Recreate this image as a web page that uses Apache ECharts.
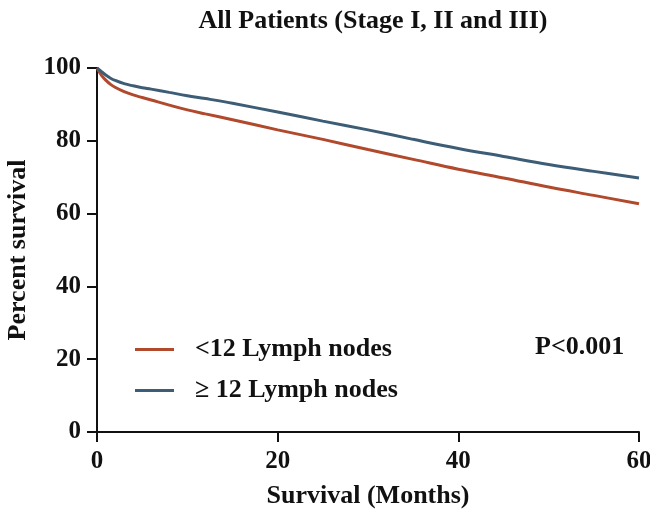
<!DOCTYPE html>
<html>
<head>
<meta charset="utf-8">
<script src="https://cdn.jsdelivr.net/npm/echarts@6/dist/echarts.min.js"></script>
<style>html,body{margin:0;padding:0;background:#fff}#c{width:650px;height:515px}</style>
</head>
<body>
<div id="c"></div>
<script>
var months = [0, 0.5, 1, 1.5, 2, 3, 4, 5, 6, 8, 10, 12, 15, 20, 25, 30, 35, 40, 45, 50, 55, 60];
var lessThan12 = [100, 98.0, 96.6, 95.5, 94.7, 93.5, 92.6, 91.9, 91.2, 89.8, 88.5, 87.4, 85.8, 83.0, 80.4, 77.6, 74.9, 72.2, 69.8, 67.3, 65.0, 62.7];
var atLeast12 = [100, 99.0, 98.0, 97.2, 96.6, 95.7, 95.1, 94.6, 94.2, 93.3, 92.4, 91.6, 90.3, 87.9, 85.4, 83.0, 80.4, 77.9, 75.7, 73.5, 71.6, 69.8];
var seriesNames = ['<12 Lymph nodes', '\u2265 12 Lymph nodes'];
var xTicks = [0, 20, 40, 60];
var yTicks = [0, 20, 40, 60, 80, 100];

function pairs(xs, ys) { return xs.map(function (x, i) { return [x, ys[i]]; }); }

var font = '"Liberation Serif", "Times New Roman", serif';
var chart = echarts.init(document.getElementById('c'), null, {renderer: 'canvas'});
chart.setOption({
  animation: false,
  backgroundColor: '#fff',
  textStyle: {fontFamily: font},
  title: {
    text: 'All Patients (Stage I, II and III)',
    left: 368, top: 3, textAlign: 'center',
    textStyle: {fontFamily: font, fontWeight: 'bold', fontSize: 26, color: '#111'}
  },
  grid: {left: 97, right: 11, top: 68, bottom: 83, containLabel: false, outerBoundsMode: 'none'},
  legend: {
    orient: 'vertical', left: 130, top: 331,
    icon: 'rect', itemWidth: 39, itemHeight: 3, itemGap: 14,
    textStyle: {fontFamily: font, fontWeight: 'bold', fontSize: 26, color: '#111', padding: [0, 0, 0, 16], lineHeight: 27},
    data: seriesNames
  },
  xAxis: {
    type: 'value', min: 0, max: 60, interval: 20,
    name: 'Survival (Months)', nameLocation: 'middle', nameGap: 51,
    nameTextStyle: {fontFamily: font, fontWeight: 'bold', fontSize: 26, color: '#111'},
    axisLine: {lineStyle: {color: '#111', width: 2}},
    axisTick: {show: true, length: 10, lineStyle: {color: '#111', width: 2}},
    axisLabel: {margin: 17, fontFamily: font, fontWeight: 'bold', fontSize: 25, color: '#111',
      formatter: function (v) { return xTicks.indexOf(v) >= 0 ? String(v) : ''; }},
    splitLine: {show: false}
  },
  yAxis: {
    type: 'value', min: 0, max: 100, interval: 20,
    name: 'Percent survival', nameLocation: 'middle', nameGap: 66,
    nameTextStyle: {fontFamily: font, fontWeight: 'bold', fontSize: 26, color: '#111'},
    axisLine: {show: true, lineStyle: {color: '#111', width: 2}},
    axisTick: {show: true, length: 10, lineStyle: {color: '#111', width: 2}},
    axisLabel: {margin: 16, fontFamily: font, fontWeight: 'bold', fontSize: 25, color: '#111',
      formatter: function (v) { return yTicks.indexOf(v) >= 0 ? String(v) : ''; }},
    splitLine: {show: false}
  },
  graphic: [{
    type: 'text', left: 535, top: 334,
    style: {text: 'P<0.001', fontFamily: font, fontWeight: 'bold', fontSize: 26, fill: '#111'}
  }],
  series: [
    {name: seriesNames[0], type: 'line', data: pairs(months, lessThan12), showSymbol: false, smooth: 0.4,
      lineStyle: {color: '#b1492c', width: 3}, itemStyle: {color: '#b1492c'}},
    {name: seriesNames[1], type: 'line', data: pairs(months, atLeast12), showSymbol: false, smooth: 0.4,
      lineStyle: {color: '#3c5d75', width: 3}, itemStyle: {color: '#3c5d75'}}
  ]
});
</script>
</body>
</html>
